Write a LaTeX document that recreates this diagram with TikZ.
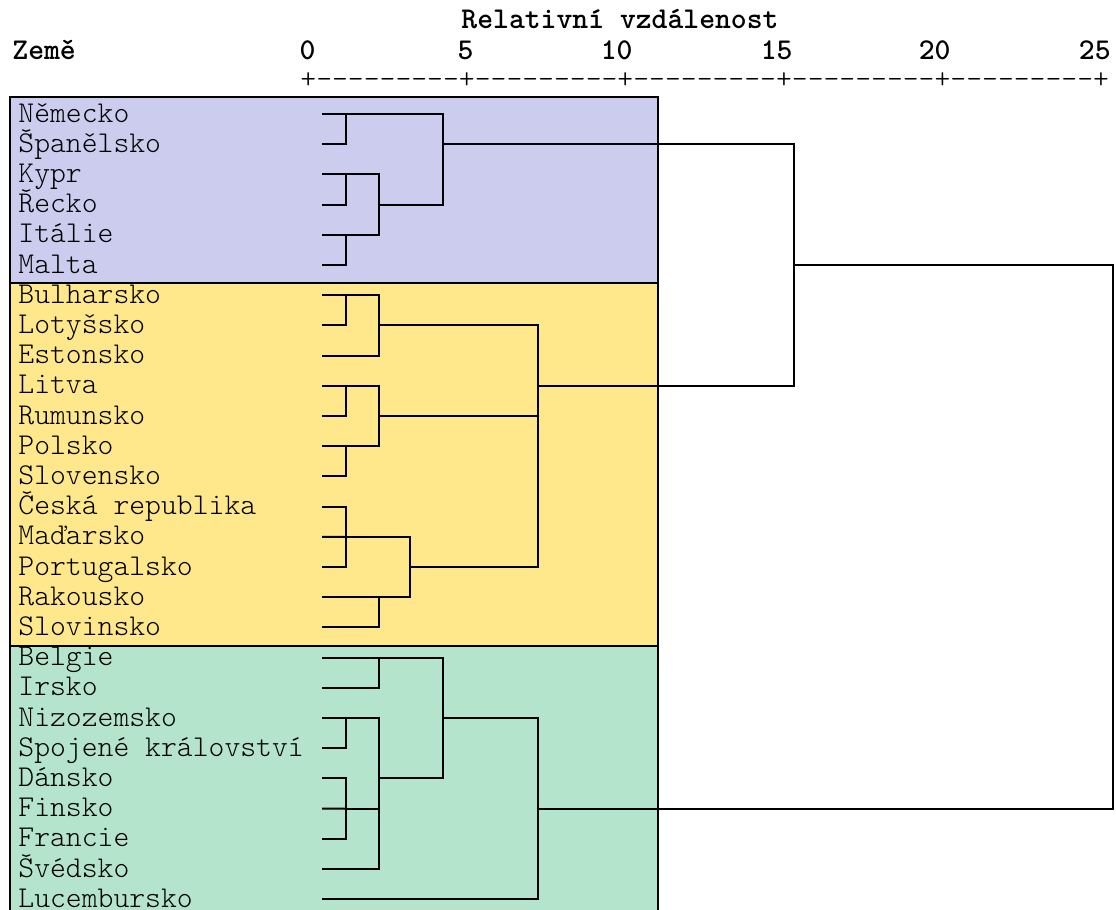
\documentclass[tikz,border=0pt]{standalone}
\usepackage{fontspec}
\newfontfamily\spssfont{Latin Modern Mono Light}
\definecolor{clblue}{RGB}{204,204,238}
\definecolor{clyellow}{RGB}{255,232,140}
\definecolor{clgreen}{RGB}{180,229,204}
\begin{document}
\begin{tikzpicture}[x=0.5pt,y=-0.5pt,
  lbl/.style={anchor=base west, inner sep=0pt, font=\spssfont\fontsize{15.1}{17}\selectfont},
  hdr/.style={inner sep=0pt, font=\spssfont\bfseries\fontsize{15.1}{17}\selectfont},
  group/.style={draw=black, line width=1.2pt},
  link/.style={draw=black, line width=1pt}]
\useasboundingbox (0,0) rectangle (1116,910);
\clip (0,0) rectangle (1116,910);
% cluster boxes
\draw[group, fill=clblue] (10,97) rectangle (658,283);
\draw[group, fill=clyellow] (10,283) rectangle (658,646);
\draw[group, fill=clgreen] (10,646) rectangle (658,940);
% header
\node[hdr, anchor=base] (title) at (620,28) {Relativní vzdálenost};
\node[hdr, anchor=base west] (zeme) at (12,60) {Země};
\foreach \v/\px in {0/308,5/466,10/625,15/785,20/943,25/1103}
  \node[hdr, anchor=base east] (t\v) at (\px+8,60) {\v};
\node[lbl] (axis) at (300,88) {+---------+---------+---------+---------+---------+};
% leaves
\foreach \name [count=\i from 0] in {Německo, Španělsko, Kypr, Řecko, Itálie, Malta,
    Bulharsko, Lotyšsko, Estonsko, Litva, Rumunsko, Polsko, Slovensko,
    Česká republika, Maďarsko, Portugalsko, Rakousko, Slovinsko,
    Belgie, Irsko, Nizozemsko, Spojené království, Dánsko, Finsko, Francie,
    Švédsko, Lucembursko} {
  \node[lbl] (n\i) at (18,{122+30.2*\i}) {\name};
  \coordinate (l\i) at (322,{114+30.2*\i});
}
% joins
\coordinate (a1) at (346,114);
\coordinate (a2) at (346,174.4);
\coordinate (a3) at (346,234.8);
\coordinate (a4) at (379,204.6);
\coordinate (a5) at (443,144.2);
\coordinate (b1) at (346,295.2);
\coordinate (b2) at (379,325.4);
\coordinate (b3) at (346,385.8);
\coordinate (b4) at (346,446.2);
\coordinate (b5) at (379,416);
\coordinate (b6) at (346,536.8);
\coordinate (b7) at (379,597.2);
\coordinate (b8) at (410,567);
\coordinate (b9) at (538,385.8);
\coordinate (c1) at (379,657.6);
\coordinate (c2) at (346,718);
\coordinate (c3) at (346,808.6);
\coordinate (c4) at (379,778.4);
\coordinate (c5) at (443,718);
\coordinate (c6) at (538,808.6);
\coordinate (d1) at (794,265);
\coordinate (d2) at (1113,536.8);
% blue cluster
\draw[link] (l0) -| (a1) |- (l1);
\draw[link] (l2) -| (a2) |- (l3);
\draw[link] (l4) -| (a3) |- (l5);
\draw[link] (a2) -| (a4) |- (a3);
\draw[link] (a1) -| (a5) |- (a4);
% yellow cluster
\draw[link] (l6) -| (b1) |- (l7);
\draw[link] (b1) -| (b2) |- (l8);
\draw[link] (l9) -| (b3) |- (l10);
\draw[link] (l11) -| (b4) |- (l12);
\draw[link] (b3) -| (b5) |- (b4);
\draw[link] (l13) -| (b6) |- (l15);
\draw[link] (l14) -- (b6);
\draw[link] (l16) -| (b7) |- (l17);
\draw[link] (b6) -| (b8) |- (b7);
\draw[link] (b2) -| (b9) |- (b8);
\draw[link] (b5) -- (b5 -| b9);
% green cluster
\draw[link] (l18) -| (c1) |- (l19);
\draw[link] (l20) -| (c2) |- (l21);
\draw[link] (l22) -| (c3) |- (l24);
\draw[link] (l23) -- (c3);
\draw[link] (c2) -| (c4) |- (l25);
\draw[link] (c3) -- (c3 -| c4);
\draw[link] (c1) -| (c5) |- (c4);
\draw[link] (c5) -| (c6) |- (l26);
% top joins
\draw[link] (a5) -| (d1) |- (b9);
\draw[link] (d1) -| (d2) |- (c6);
\end{tikzpicture}
\end{document}
